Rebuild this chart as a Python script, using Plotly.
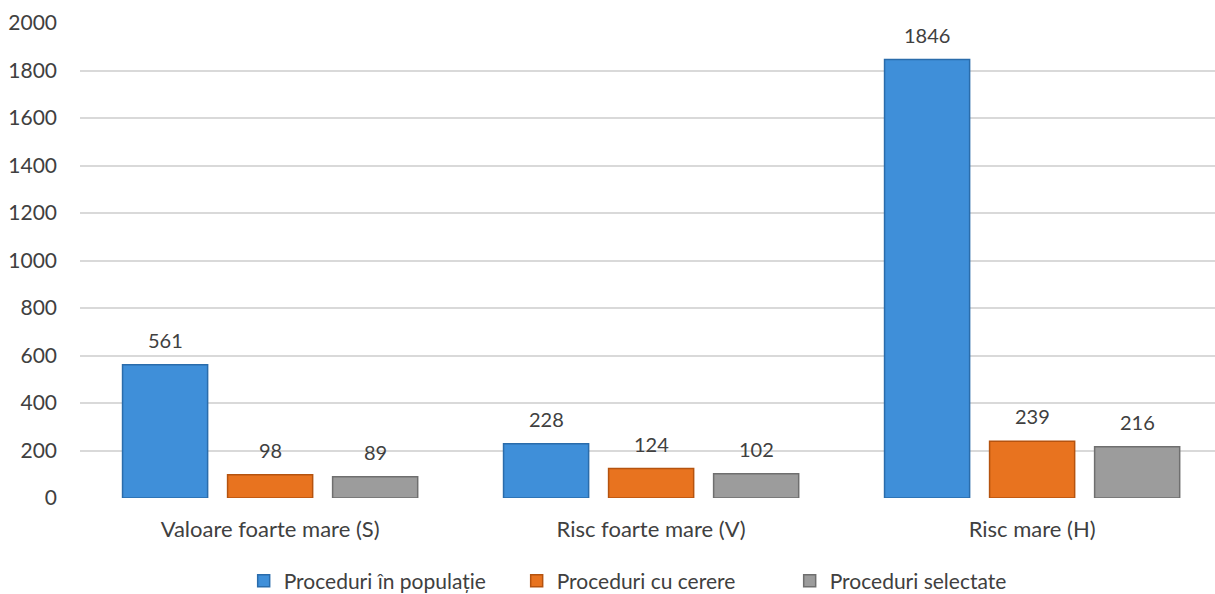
import plotly.graph_objects as go

categories = ["Valoare foarte mare (S)", "Risc foarte mare (V)", "Risc mare (H)"]
series_names = ["Proceduri în populație", "Proceduri cu cerere", "Proceduri selectate"]
populatie = [561, 228, 1846]
cerere = [98, 124, 239]
selectate = [89, 102, 216]
y_ticks = [0, 200, 400, 600, 800, 1000, 1200, 1400, 1600, 1800, 2000]

fills = ["#3f8fd9", "#e8731f", "#9c9c9c"]
edges = ["#2a6cab", "#b5530f", "#6f6f6f"]

FONT = "Lato"
TEXT = "#404040"
positions = list(range(len(categories)))
pitch = 0.2756  # horizontal spacing between bars within a group

fig = go.Figure()
for name, vals, fc, ec in zip(series_names, [populatie, cerere, selectate], fills, edges):
    fig.add_trace(go.Bar(
        name=name, x=positions, y=vals,
        marker=dict(color=fc, line=dict(color=ec, width=1.5)),
        hoverinfo="skip",
    ))

annotations = []
for j, vals in enumerate([populatie, cerere, selectate]):
    for i, v in enumerate(vals):
        annotations.append(dict(
            x=i + (j - 1) * pitch, y=v, text=str(v), showarrow=False,
            yshift=25, font=dict(family=FONT, size=20, color=TEXT),
            xref="x", yref="y",
        ))

fig.update_layout(
    width=1215, height=594,
    margin=dict(l=80, r=0, t=23, b=96, autoexpand=False),
    paper_bgcolor="white", plot_bgcolor="white",
    barmode="group", bargap=0.173, bargroupgap=0.19,
    font=dict(family=FONT, size=20, color=TEXT),
    xaxis=dict(
        tickvals=positions, ticktext=categories, range=[-0.499, 2.48],
        showgrid=False, zeroline=False, showline=False, ticks="",
        ticklabelstandoff=16, automargin=False,
        tickfont=dict(size=22, color=TEXT),
    ),
    yaxis=dict(
        range=[0, 2000], tickvals=y_ticks, showgrid=True,
        gridcolor="#d9d9d9", gridwidth=1.5, zeroline=False,
        showline=False, ticks="", ticklabelstandoff=22, automargin=False,
        tickfont=dict(size=21, color=TEXT),
    ),
    legend=dict(
        orientation="h", x=0.505, xanchor="center", y=-0.175, yanchor="middle",
        font=dict(size=21, color=TEXT), entrywidth=228, entrywidthmode="pixels",
        traceorder="normal",
    ),
    annotations=annotations,
)

fig.write_html("out.html")
